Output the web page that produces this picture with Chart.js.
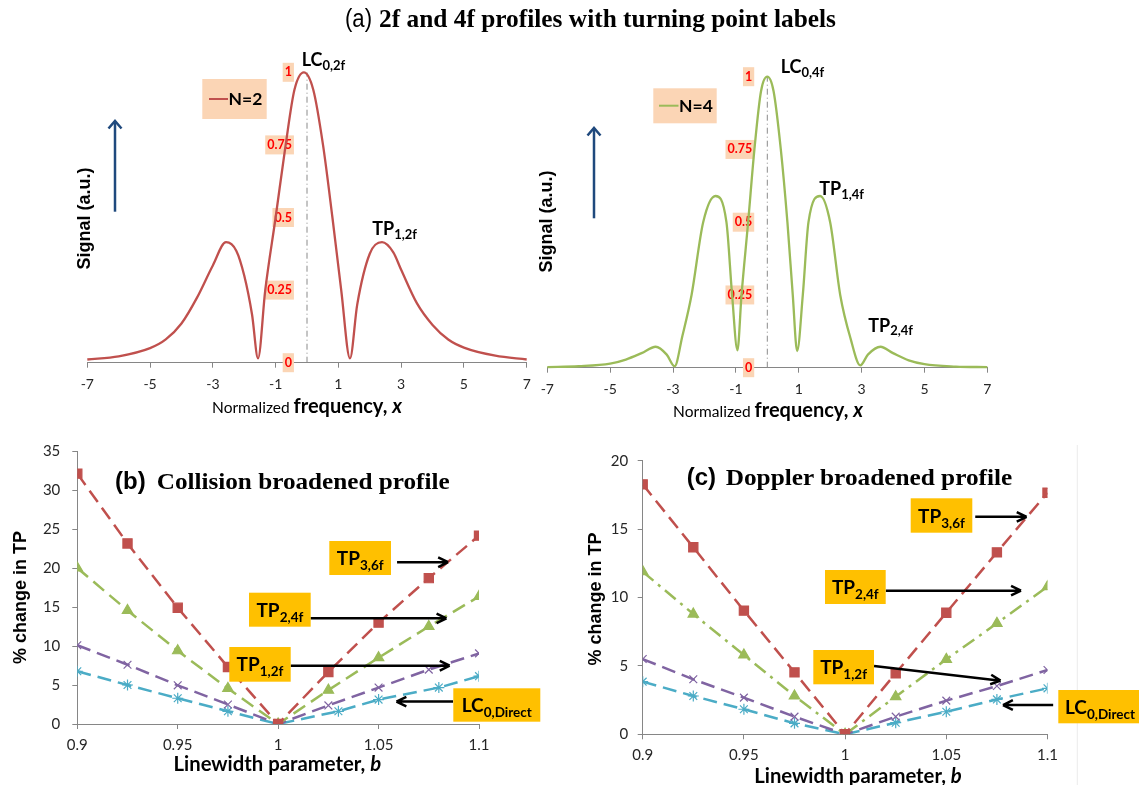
<!DOCTYPE html>
<html>
<head>
<meta charset="utf-8">
<title>2f and 4f profiles with turning point labels</title>
<script src="https://cdn.jsdelivr.net/npm/chart.js@4.4.1/dist/chart.umd.min.js"></script>
<style>
  html, body { margin: 0; padding: 0; background: #fff; }
  #page { position: relative; width: 1139px; height: 785px; overflow: hidden; }
  canvas { position: absolute; }
  svg { position: absolute; left: 0; top: 0; pointer-events: none; }
  .cal { font-family: Lato, sans-serif; font-weight: bold; }
  .serif { font-family: "Liberation Serif", serif; font-weight: bold; }
  .arial { font-family: "Liberation Sans", Arial, sans-serif; font-weight: bold; }
</style>
</head>
<body>
<div id="page">
  <canvas id="profile2f" width="500" height="380" style="left:50px;top:40px"></canvas>
  <canvas id="profile4f" width="500" height="380" style="left:510px;top:40px"></canvas>
  <canvas id="collision" width="540" height="355" style="left:0px;top:430px"></canvas>
  <canvas id="doppler" width="540" height="345" style="left:560px;top:440px"></canvas>

  <svg width="1139" height="785" xmlns="http://www.w3.org/2000/svg">
    <!-- (a) title -->
    <text x="345" y="27" font-family="Liberation Sans, sans-serif" font-size="25" textLength="27" lengthAdjust="spacingAndGlyphs">(a)</text>
    <text x="379" y="27" class="serif" font-size="24.5" textLength="457" lengthAdjust="spacingAndGlyphs">2f and 4f profiles with turning point labels</text>

    <!-- top left: N=2 -->
    <text class="arial" font-size="18" text-anchor="middle" transform="translate(89.5,218.5) rotate(-90)">Signal (a.u.)</text>
    <g stroke="#1f497d" stroke-width="2.5" fill="none">
      <line x1="115" y1="211.7" x2="115" y2="121.5"/>
      <polyline points="108.5,128.5 115,121 121.5,128.5"/>
      <line x1="594" y1="218.3" x2="594" y2="128.5"/>
      <polyline points="587.5,135.5 594,128 600.5,135.5"/>
    </g>
    <rect x="202.3" y="79" width="64.4" height="40" fill="#fbd5b5"/>
    <line x1="209" y1="99" x2="228" y2="99" stroke="#c0504d" stroke-width="2"/>
    <text x="228.5" y="105" class="cal" font-size="17.5">N=2</text>
    <text x="301.7" y="66" class="cal" font-size="18">LC<tspan font-size="13" dy="3.5">0,2f</tspan></text>
    <text x="372.3" y="235" class="cal" font-size="18">TP<tspan font-size="13" dy="3.5">1,2f</tspan></text>
    <text x="307" y="413" text-anchor="middle" font-family="Lato, sans-serif"><tspan font-size="15.5">Normalized </tspan><tspan font-size="20" font-weight="bold">frequency, </tspan><tspan font-size="20" font-weight="bold" font-style="italic">x</tspan></text>

    <!-- top right: N=4 -->
    <text class="arial" font-size="18" text-anchor="middle" transform="translate(552,221.5) rotate(-90)">Signal (a.u.)</text>
    <rect x="653.3" y="88.3" width="63.4" height="35" fill="#fbd5b5"/>
    <line x1="659" y1="105.7" x2="678.5" y2="105.7" stroke="#9bbb59" stroke-width="2"/>
    <text x="679" y="111.7" class="cal" font-size="17.5">N=4</text>
    <text x="780.7" y="73.3" class="cal" font-size="18">LC<tspan font-size="13" dy="3.5">0,4f</tspan></text>
    <text x="819.3" y="195" class="cal" font-size="18">TP<tspan font-size="13" dy="3.5">1,4f</tspan></text>
    <text x="868.3" y="331.7" class="cal" font-size="18">TP<tspan font-size="13" dy="3.5">2,4f</tspan></text>
    <text x="768" y="417" text-anchor="middle" font-family="Lato, sans-serif"><tspan font-size="15.5">Normalized </tspan><tspan font-size="20" font-weight="bold">frequency, </tspan><tspan font-size="20" font-weight="bold" font-style="italic">x</tspan></text>

    <!-- (b) collision -->
    <text x="115" y="489" class="arial" font-size="24">(b)</text>
    <text x="156.7" y="489" class="serif" font-size="24" textLength="293" lengthAdjust="spacingAndGlyphs">Collision broadened profile</text>
    <text class="arial" font-size="18" text-anchor="middle" transform="translate(26,597.5) rotate(-90)">% change in TP</text>
    <text x="277.3" y="771" text-anchor="middle" class="cal" font-size="20.3">Linewidth parameter, <tspan font-style="italic">b</tspan></text>
    <g fill="#ffc000">
      <rect x="329.3" y="541" width="61.7" height="34"/>
      <rect x="249" y="592.7" width="61.7" height="34"/>
      <rect x="229.3" y="647" width="61.4" height="34.7"/>
      <rect x="453.3" y="688.3" width="87" height="33.4"/>
    </g>
    <g class="cal" font-size="19" text-anchor="middle">
      <text x="360.2" y="565">TP<tspan font-size="13.5" dy="5">3,6f</tspan></text>
      <text x="279.9" y="616.7">TP<tspan font-size="13.5" dy="5">2,4f</tspan></text>
      <text x="260" y="671">TP<tspan font-size="13.5" dy="5">1,2f</tspan></text>
      <text x="496.8" y="712.3">LC<tspan font-size="13.5" dy="5">0,Direct</tspan></text>
    </g>

    <!-- (c) doppler -->
    <line x1="1077.3" y1="445" x2="1077.3" y2="785" stroke="#ececec" stroke-width="1"/>
    <text x="686.7" y="485" class="arial" font-size="24">(c)</text>
    <text x="725.7" y="485" class="serif" font-size="24" textLength="286.6" lengthAdjust="spacingAndGlyphs">Doppler broadened profile</text>
    <text class="arial" font-size="18" text-anchor="middle" transform="translate(601.3,599) rotate(-90)">% change in TP</text>
    <text x="858" y="783" text-anchor="middle" class="cal" font-size="20.3">Linewidth parameter, <tspan font-style="italic">b</tspan></text>
    <g fill="#ffc000">
      <rect x="910.7" y="498.3" width="61.6" height="34.4"/>
      <rect x="825" y="570" width="60.7" height="34"/>
      <rect x="813.3" y="650" width="60.7" height="34.3"/>
      <rect x="1058.3" y="690" width="80.7" height="33.3"/>
    </g>
    <g class="cal" font-size="19" text-anchor="middle">
      <text x="941.5" y="522.5">TP<tspan font-size="13.5" dy="5">3,6f</tspan></text>
      <text x="855.3" y="594">TP<tspan font-size="13.5" dy="5">2,4f</tspan></text>
      <text x="843.6" y="674">TP<tspan font-size="13.5" dy="5">1,2f</tspan></text>
      <text x="1100" y="714">LC<tspan font-size="13.5" dy="5">0,Direct</tspan></text>
    </g>
  </svg>
</div>

<script>
// ---- data ----
const xTicksTop = [-7, -5, -3, -1, 1, 3, 5, 7];
const yTicksTop = [0, 0.25, 0.5, 0.75, 1];

// N=2 (2f) profile
const x2f = [-7, -6, -5, -4.5, -4, -3.5, -3, -2.58, -2.25, -2, -1.75, -1.56, -1.33, -1.0, -0.68, -0.4, -0.1,
             0.2, 0.51, 0.81, 1.09, 1.37, 1.6, 2.0, 2.39, 2.75, 3, 3.5, 4, 4.5, 5, 6, 7];
const y2f = [0.011, 0.022, 0.05, 0.08, 0.135, 0.225, 0.335, 0.415, 0.385, 0.3, 0.165, 0.015, 0.25, 0.5, 0.75, 0.94, 1.0,
             0.94, 0.75, 0.5, 0.25, 0.015, 0.2, 0.375, 0.415, 0.38, 0.32, 0.205, 0.13, 0.08, 0.052, 0.024, 0.011];

// N=4 (4f) profile
const x4f = [-7, -6, -5, -4.5, -4, -3.55, -3.2, -2.95, -2.7, -2.41, -2.04, -1.65, -1.3, -1.12, -0.95, -0.82, -0.61, -0.41, -0.2, 0,
             0.2, 0.43, 0.64, 0.81, 0.95, 1.13, 1.31, 1.68, 2.0, 2.32, 2.65, 2.96, 3.2, 3.6, 4, 4.5, 5, 6, 7];
const y4f = [0.002, 0.005, 0.014, 0.028, 0.05, 0.072, 0.045, 0.005, 0.11, 0.25, 0.5, 0.59, 0.5, 0.25, 0.06, 0.25, 0.5, 0.75, 0.95, 1.0,
             0.95, 0.75, 0.5, 0.25, 0.057, 0.25, 0.5, 0.59, 0.5, 0.25, 0.1, 0.008, 0.045, 0.072, 0.05, 0.025, 0.012, 0.004, 0.002];

const bValues = [0.9, 0.925, 0.95, 0.975, 1, 1.025, 1.05, 1.075, 1.1];
const bValuesLcCollision = [0.9, 0.925, 0.95, 0.975, 1, 1.03, 1.05, 1.08, 1.1];
const xTicksB = [0.9, 0.95, 1, 1.05, 1.1];
const yTicksCollision = [0, 5, 10, 15, 20, 25, 30, 35];
const yTicksDoppler = [0, 5, 10, 15, 20];

// (b) collision broadened, % change
const colTP3 = [32.1, 23.15, 14.9, 7.3, 0, 6.67, 13.0, 18.7, 24.15];
const colTP2 = [20.0, 14.56, 9.39, 4.55, 0, 4.34, 8.5, 12.5, 16.35];
const colTP1 = [10.1, 7.6, 4.96, 2.5, 0, 2.38, 4.67, 6.97, 9.05];
const colLC = [6.76, 5.0, 3.3, 1.63, 0, 1.63, 3.13, 4.67, 6.13];

// (c) doppler broadened, % change
const dopTP3 = [18.27, 13.67, 9.04, 4.53, 0, 4.46, 8.89, 13.3, 17.66];
const dopTP2 = [11.89, 8.79, 5.8, 2.8, 0, 2.75, 5.48, 8.11, 10.79];
const dopTP1 = [5.5, 4.02, 2.68, 1.29, 0, 1.29, 2.46, 3.53, 4.7];
const dopLC = [3.85, 2.8, 1.83, 0.8, 0, 0.85, 1.65, 2.55, 3.36];

// ---- helpers ----
Chart.defaults.font.family = 'Lato, sans-serif';
Chart.defaults.color = '#262626';
Chart.defaults.animation = false;
Chart.defaults.plugins.legend.display = false;
Chart.defaults.plugins.tooltip.enabled = false;

const axisGrey = '#868686';
const red = '#c0504d', green = '#9bbb59', purple = '#8064a2', cyan = '#4bacc6';

function pts(xs, ys) {
  return xs.map((x, i) => ({x: x, y: ys[i]}));
}
function fixTicks(values) {
  return scale => { scale.ticks = values.map(v => ({value: v})); };
}

// arrows from the label boxes, given in data units
const arrowPlugin = {
  id: 'arrows',
  afterDatasetsDraw(chart, args, opts) {
    const ctx = chart.ctx, sx = chart.scales.x, sy = chart.scales.y;
    ctx.save();
    ctx.strokeStyle = '#000';
    ctx.lineWidth = 2.5;
    (opts.items || []).forEach(a => {
      const x1 = sx.getPixelForValue(a.from[0]), y1 = sy.getPixelForValue(a.from[1]);
      const x2 = sx.getPixelForValue(a.to[0]), y2 = sy.getPixelForValue(a.to[1]);
      const ang = Math.atan2(y2 - y1, x2 - x1);
      ctx.beginPath();
      ctx.moveTo(x1, y1);
      ctx.lineTo(x2, y2);
      [-1, 1].forEach(s => {
        ctx.moveTo(x2 - 11 * Math.cos(ang + s * 0.45), y2 - 11 * Math.sin(ang + s * 0.45));
        ctx.lineTo(x2, y2);
      });
      ctx.stroke();
    });
    ctx.restore();
  }
};

function profileChart(id, xs, ys, color, pad, xHeight) {
  return new Chart(document.getElementById(id), {
    type: 'scatter',
    data: {
      datasets: [
        {data: pts(xs, ys), showLine: true, borderColor: color, borderWidth: 2.3, pointRadius: 0,
         cubicInterpolationMode: 'monotone', clip: false},
        {data: [{x: 0, y: 0}, {x: 0, y: 1}], showLine: true, borderColor: '#8a8a8a', borderWidth: 1,
         borderDash: [6, 3, 1, 3], pointRadius: 0}
      ]
    },
    options: {
      responsive: false,
      devicePixelRatio: 1,
      layout: {padding: pad},
      scales: {
        x: {
          type: 'linear', min: -7, max: 7,
          afterBuildTicks: fixTicks(xTicksTop),
          afterFit: s => { s.height = xHeight; },
          border: {color: axisGrey},
          grid: {drawOnChartArea: false, tickLength: 5, color: axisGrey},
          ticks: {padding: 8, font: {size: 14}, callback: v => String(v)}
        },
        y: {
          type: 'linear', min: 0, max: 1,
          position: {x: -0.48},
          afterBuildTicks: fixTicks(yTicksTop),
          border: {display: false},
          grid: {display: false},
          ticks: {color: '#ff0000', font: {size: 12.5, weight: 'bold'}, showLabelBackdrop: true,
                  backdropColor: '#fbd5b5', backdropPadding: {x: 2, y: 2}, callback: v => String(v)}
        }
      }
    }
  });
}

function series(xs, ys, color, style, radius, dash) {
  return {data: pts(xs, ys), showLine: true, borderColor: color, backgroundColor: color, borderWidth: 2.5,
          borderDash: dash, pointStyle: style, pointRadius: radius, pointBorderWidth: 1.2,
          pointBorderColor: color, pointBackgroundColor: color};
}

function changeChart(id, datasets, yMax, yTicks, yWidth, pad, xHeight, tickPad, arrows) {
  return new Chart(document.getElementById(id), {
    type: 'scatter',
    data: {datasets: datasets},
    plugins: [arrowPlugin],
    options: {
      responsive: false,
      devicePixelRatio: 1,
      layout: {padding: pad},
      plugins: {arrows: {items: arrows}},
      scales: {
        x: {
          type: 'linear', min: 0.9, max: 1.1,
          afterBuildTicks: fixTicks(xTicksB),
          afterFit: s => { s.height = xHeight; },
          border: {color: axisGrey},
          grid: {drawOnChartArea: false, tickLength: 5, color: axisGrey},
          ticks: {padding: 7, font: {size: 15}, callback: v => String(v)}
        },
        y: {
          type: 'linear', min: 0, max: yMax,
          afterBuildTicks: fixTicks(yTicks),
          afterFit: s => { s.width = yWidth; },
          border: {color: axisGrey},
          grid: {drawOnChartArea: false, tickLength: 5, color: axisGrey},
          ticks: {padding: tickPad, font: {size: 15}, callback: v => String(v)}
        }
      }
    }
  });
}

// ---- charts ----
profileChart('profile2f', x2f, y2f, red, {left: 37.3, right: 23.3, top: 32.3, bottom: 0}, 57.3);
profileChart('profile4f', x4f, y4f, green, {left: 37.3, right: 22.7, top: 36.7, bottom: 0}, 52.3);

const longDash = [14, 7];
changeChart('collision', [
  series(bValues, colTP3, red, 'rect', 6.5, longDash),
  series(bValues, colTP2, green, 'triangle', 6, longDash),
  series(bValues, colTP1, purple, 'crossRot', 5.5, longDash),
  series(bValuesLcCollision, colLC, cyan, 'star', 5.5, longDash)
], 35, yTicksCollision, 77.3, {left: 0, right: 61, top: 14.3, bottom: 0}, 61, 12, [
  {from: [1.0592, 20.74], to: [1.0846, 20.74]},
  {from: [1.0161, 13.55], to: [1.0838, 13.55]},
  {from: [1.0062, 7.47], to: [1.0854, 7.47]},
  {from: [1.0871, 2.88], to: [1.0589, 2.88]}
]);

changeChart('doppler', [
  series(bValues, dopTP3, red, 'rect', 6.5, longDash),
  series(bValues, dopTP2, green, 'triangle', 6, [14, 6, 3, 6]),
  series(bValues, dopTP1, purple, 'crossRot', 5.5, longDash),
  series(bValues, dopLC, cyan, 'star', 5.5, longDash)
], 20, yTicksDoppler, 82.7, {left: 0, right: 52.5, top: 20.7, bottom: 0}, 50.7, 9.5, [
  {from: [1.0643, 15.9], to: [1.0897, 15.9]},
  {from: [1.0201, 10.5], to: [1.0869, 10.5]},
  {from: [1.0143, 4.99], to: [1.0768, 3.92]},
  {from: [1.1028, 2.14], to: [1.078, 2.14]}
]);
</script>
</body>
</html>
